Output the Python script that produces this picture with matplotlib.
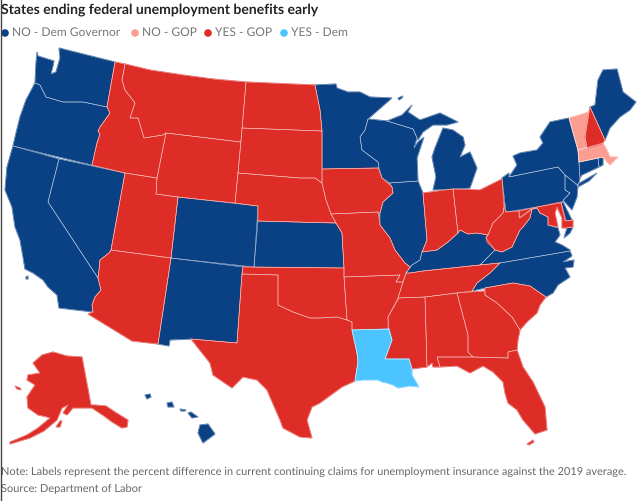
import matplotlib
matplotlib.use("Agg")
import matplotlib.pyplot as plt
from matplotlib.patches import Polygon

plt.rcParams['font.family'] = ['Lato', 'DejaVu Sans']
plt.rcParams['text.hinting'] = 'no_hinting'
plt.rcParams['text.hinting_factor'] = 1

# Colours
navy = "#0a4185"
pink = "#fb9d91"
red = "#de2d26"
sky = "#4cc4ff"

# Legend
legend_labels = ["NO - Dem Governor", "NO - GOP", "YES - GOP", "YES - Dem"]
legend_colors = [navy, pink, red, sky]
legend_dot_x = [5, 135, 208, 284]

# State outlines
wa = [(37,52),(38,56),(54,61),(53,66),(51,74),(56,72),(60,58),(59,48),(115,62),(107,107),(83,102),(63,102),(46,97),(40,85),(35,83),(36,63)]
or_ = [(35,83),(40,85),(46,97),(63,102),(83,102),(107,107),(110,113),(100,127),(98,131),(100,134),(97,143),(92,165),(13,146),(16,133),(20,117),(26,100)]
ca = [(13,146),(59,159),(48,202),(98,278),(101,290),(95,297),(92,305),(93,312),(59,308),(57,295),(48,287),(43,280),(33,273),(25,269),(23,257),(20,240),(15,227),(12,207),(5,190),(7,167)]
ca_island = [(26,277),(28,276),(28,279),(26,279)]
nv = [(59,159),(125,173),(111,250),(109,253),(100,260),(99,270),(98,278),(48,202)]
id_ = [(115,62),(125,64),(122,80),(125,90),(135,103),(130,118),(138,118),(144,138),(163,135),(166,133),(157,178),(125,173),(92,165),(97,143),(100,134),(98,131),(100,127),(110,113),(107,107)]
mt = [(125,64),(150,70),(183,75),(213,79),(246,82),(241,142),(166,133),(163,135),(144,138),(138,118),(130,118),(135,103),(125,90),(122,80)]
wy = [(166,133),(241,142),(235,203),(178,197),(156,194),(157,178)]
nd = [(246,82),(315,85),(318,100),(320,110),(322,131),(242,128)]
sd = [(242,128),(322,131),(322,168),(322,183),(315,178),(300,178),(238,173)]
ne = [(238,173),(300,178),(315,178),(322,183),(326,200),(331,214),(336,223),(258,221),(258,206),(235,203)]
ks = [(258,221),(336,223),(342,233),(344,268),(254,267)]
co = [(178,197),(258,206),(254,267),(171,258)]
ut = [(125,173),(157,178),(156,194),(178,197),(171,258),(111,250)]
az = [(111,250),(171,258),(158,344),(132,341),(88,314),(93,312),(92,305),(95,297),(101,290),(98,278),(99,270),(100,260),(109,253)]
nm = [(171,258),(243,267),(242,274),(237,343),(191,339),(170,340),(169,346),(158,344)]
tx = [(242,274),(278,275),(278,305),(293,312),(310,318),(320,318),(337,317),(347,320),(352,322),(352,330),(357,353),(358,362),(355,381),(342,387),(320,403),(312,407),(307,420),(312,438),(300,437),(283,428),(280,420),(267,390),(257,380),(243,377),(232,388),(213,375),(210,363),(191,339),(237,343)]
ok = [(243,267),(344,268),(344,277),(347,320),(337,317),(320,318),(310,318),(293,312),(278,305),(278,275),(242,274)]
ar = [(344,277),(400,275),(396,282),(403,282),(398,298),(388,317),(389,329),(352,330),(352,322),(347,320)]
mo = [(331,214),(378,212),(380,225),(390,238),(395,250),(405,263),(410,267),(406,273),(403,282),(396,282),(400,275),(344,277),(344,268),(342,233),(336,223)]
ia = [(322,169),(378,168),(382,178),(392,187),(393,193),(383,202),(380,213),(378,212),(331,214),(326,200),(322,183)]
mn = [(315,85),(336,84),(337,88),(348,92),(360,92),(370,97),(392,98),(368,119),(365,130),(360,137),(362,150),(378,162),(379,168),(322,169),(322,131),(320,110),(318,100)]
wi = [(368,119),(387,121),(413,129),(417,138),(414,148),(418,142),(424,137),(421,146),(417,158),(418,181),(390,183),(382,178),(379,168),(378,162),(362,150),(360,137),(365,130)]
il = [(390,183),(418,181),(423,193),(427,240),(422,252),(420,260),(412,265),(410,267),(405,263),(395,250),(390,238),(380,225),(380,213),(383,202),(393,193),(392,187)]
in_ = [(423,193),(453,189),(458,233),(448,242),(437,250),(422,252),(427,240)]
oh = [(453,189),(480,190),(502,179),(504,207),(503,213),(493,223),(488,235),(477,233),(468,234),(460,230),(458,233)]
ky = [(412,265),(420,260),(422,252),(437,250),(448,242),(458,233),(460,230),(468,234),(477,233),(488,235),(486,238),(495,250),(480,265),(423,271),(410,273),(406,273)]
tn = [(410,273),(423,271),(480,265),(500,263),(490,273),(477,283),(472,291),(425,297),(398,298),(403,282),(406,273)]
va = [(480,265),(495,250),(502,252),(512,247),(520,230),(523,227),(530,218),(532,209),(537,208),(540,213),(548,217),(548,225),(558,228),(560,235),(555,242),(562,245),(570,250),(570,251),(500,263)]
va_shore = [(567,228),(573,227),(570,233),(564,238)]
wv = [(504,207),(506,212),(519,211),(520,218),(527,213),(532,209),(530,218),(523,227),(520,230),(512,247),(502,252),(495,250),(487,242),(486,237),(488,235),(493,223),(503,213)]
md = [(519,211),(561,202),(566,221),(573,220),(573,227),(566,228),(562,228),(562,218),(557,207),(555,213),(558,227),(548,225),(548,217),(540,213),(537,208),(530,210),(519,218)]
de = [(561,203),(563,202),(572,220),(565,221)]
pa = [(502,178),(509,173),(509,177),(558,167),(565,175),(565,190),(570,193),(561,203),(506,212)]
ny = [(509,177),(517,165),(513,156),(520,153),(537,150),(543,143),(540,137),(550,122),(569,118),(578,150),(580,178),(578,186),(565,175),(558,167)]
long_island = [(578,184),(597,173),(589,181),(578,187)]
nj = [(565,175),(578,185),(577,197),(572,210),(563,200),(570,193),(565,190)]
ct = [(579,162),(598,158),(599,167),(582,175),(580,178)]
ri = [(598,158),(603,157),(603,165),(599,167)]
ma = [(578,150),(603,143),(607,150),(610,157),(618,157),(610,165),(607,162),(603,157),(598,158),(579,162)]
vt = [(569,118),(589,112),(585,137),(587,148),(578,150)]
nh = [(590,107),(605,140),(602,144),(587,148),(585,137),(589,112)]
me = [(590,107),(595,105),(598,80),(603,70),(617,69),(623,92),(636,102),(630,110),(620,117),(610,128),(605,140)]
mi = [(433,190),(436,177),(432,157),(435,148),(443,128),(453,130),(463,137),(465,145),(460,157),(470,152),(477,168),(470,188),(453,189)]
mi_up = [(387,121),(402,115),(412,105),(408,112),(420,120),(440,113),(450,118),(458,122),(447,125),(433,125),(423,132),(418,140),(413,129)]
isle_royale = [(398,98),(403,96),(402,98),(399,100)]
nc = [(570,251),(500,263),(490,273),(477,283),(472,291),(485,288),(513,283),(530,286),(546,297),(553,293),(558,285),(570,277),(565,268),(573,267),(574,260),(563,262),(572,256)]
sc = [(485,288),(513,283),(530,286),(546,297),(540,305),(537,313),(527,322),(520,330),(512,317),(497,303),(485,295)]
ga = [(457,293),(485,291),(485,295),(497,303),(512,317),(520,330),(518,340),(517,350),(508,352),(508,358),(473,357),(468,352),(468,335)]
al = [(425,297),(457,293),(468,335),(468,352),(473,357),(437,357),(440,367),(433,367),(432,363),(427,367)]
ms = [(399,298),(425,297),(427,367),(412,369),(409,359),(385,359),(392,340),(388,328),(388,317)]
la = [(352,330),(389,329),(392,340),(385,359),(409,359),(412,369),(412,375),(419,387),(410,386),(398,388),(393,385),(387,383),(382,382),(378,380),(363,380),(355,381),(358,362),(357,353)]
fl = [(473,357),(508,358),(508,352),(517,350),(523,367),(533,382),(545,407),(547,430),(535,434),(523,420),(517,410),(508,403),(505,393),(503,382),(493,372),(483,366),(470,373),(457,366),(440,367),(437,357)]
fl_keys = [(527,444),(533,440),(534,442),(529,445)]
ak = [(82,357),(91,405),(95,405),(106,406),(115,412),(128,420),(127,427),(122,428),(112,422),(104,416),(92,408),(73,408),(67,415),(63,413),(68,405),(62,408),(57,420),(44,431),(30,438),(10,444),(10,442),(27,435),(38,428),(50,418),(47,417),(38,415),(28,408),(27,397),(35,385),(27,380),(28,375),(40,373),(33,363),(42,355),(53,352),(67,356)]
kodiak = [(56,427),(60,421),(62,421),(60,427)]
st_lawrence = [(15,386),(20,388),(21,390),(17,389)]
hi_big = [(200,425),(208,424),(215,434),(203,443),(198,433)]
hi_maui = [(188,413),(191,412),(198,417),(192,418)]
hi_molokai = [(180,409),(186,410),(185,411),(181,411)]
hi_oahu = [(167,403),(172,402),(174,407),(168,407)]
hi_kauai = [(145,395),(150,394),(151,397),(147,399)]

no_dem = [wa, or_, ca, ca_island, nv, co, nm, ks, mn, wi, il, mi, mi_up, isle_royale, ky, va, va_shore, nc, pa, ny, long_island, nj, de, ct, ri, me, hi_big, hi_maui, hi_molokai, hi_oahu, hi_kauai]
no_gop = [vt, ma]
yes_gop = [id_, mt, wy, nd, sd, ne, ut, az, tx, ok, ar, mo, ia, in_, oh, tn, wv, md, nh, sc, ga, al, ms, fl, fl_keys, ak, kodiak, st_lawrence]
yes_dem = [la]

fig = plt.figure(figsize=(6.4, 5.01), dpi=100)
ax = fig.add_axes([0, 0, 1, 1])
ax.set_xlim(0, 640)
ax.set_ylim(501, 0)
ax.axis("off")

groups = [no_dem, no_gop, yes_gop, yes_dem]
group_colors = [navy, pink, red, sky]

# fills first, edge in the same colour so neighbours close up
for group, color in zip(groups, group_colors):
    for outline in group:
        ax.add_patch(Polygon(outline, closed=True, facecolor=color, edgecolor=color, linewidth=0.7))

# then the thin pale state borders
for group in groups:
    for outline in group:
        ax.add_patch(Polygon(outline, closed=True, fill=False, edgecolor="#ffffff", linewidth=0.4, alpha=0.6))

# Title and legend
ax.text(1, 10, "States ending federal unemployment benefits early", fontsize=9.78, fontweight="bold", color="#222222", va="center")
ax.scatter(legend_dot_x, [33] * 4, s=30, c=legend_colors, linewidths=0)
for dot_x, label in zip(legend_dot_x, legend_labels):
    ax.text(dot_x + 7, 33, label, fontsize=8.7, color="#777777", va="center")

# Footnote
ax.text(1, 472, "Note: Labels represent the percent difference in current continuing claims for unemployment insurance against the 2019 average.", fontsize=7.68, color="#666666", va="center")
ax.text(1, 489, "Source: Department of Labor", fontsize=7.68, color="#666666", va="center")

# Dark screenshot edge on the left
ax.plot([0.5, 0.5], [0, 501], color="#444444", linewidth=1)

fig.savefig("out.png", dpi=100)
